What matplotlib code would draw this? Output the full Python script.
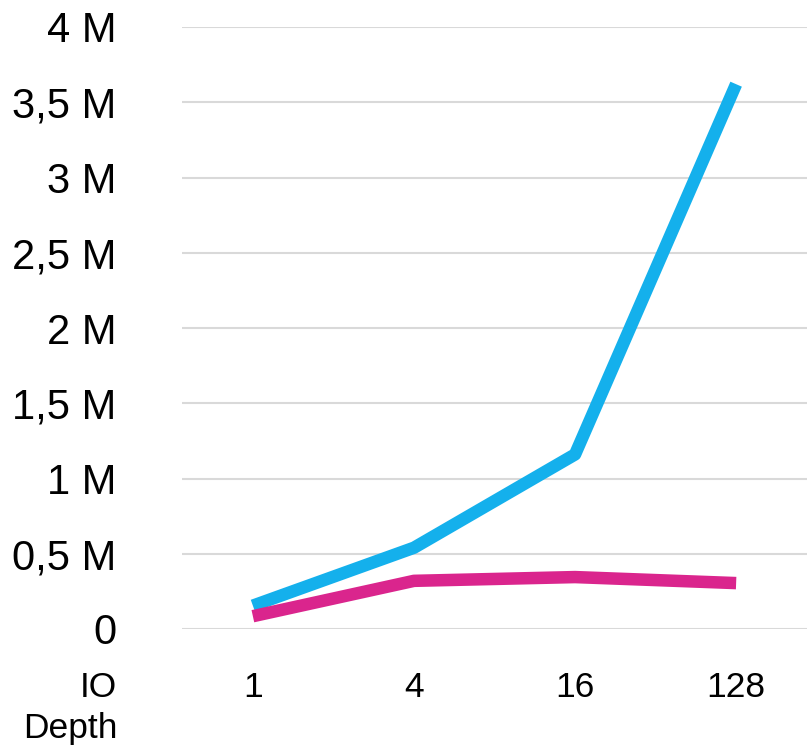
import matplotlib
matplotlib.use("Agg")
import matplotlib.pyplot as plt
from matplotlib.ticker import FuncFormatter

depths = ["1", "4", "16", "128"]
blue_vals = [155000, 540000, 1160000, 3620000]
pink_vals = [85000, 320000, 345000, 305000]
yticks = [0, 500000, 1000000, 1500000, 2000000, 2500000, 3000000, 3500000, 4000000]

plt.rcParams['font.family'] = ['Liberation Sans', 'DejaVu Sans']

W, H = 807, 749
fig = plt.figure(figsize=(W / 100, H / 100), dpi=100)
ax = fig.add_axes([182 / W, (H - 629) / H, 1 - 182 / W, (629 - 27) / H])

x = range(len(depths))
ax.plot(x, blue_vals, color='#14b0ec', lw=9, solid_capstyle='butt', clip_on=False, zorder=3)
ax.plot(x, pink_vals, color='#da258d', lw=9, solid_capstyle='butt', clip_on=False, zorder=3)

ax.set_xlim(-0.44, 3.44)
ax.set_ylim(0, 4000000)
ax.set_xticks(list(x))
ax.set_xticklabels(depths)
ax.set_yticks(yticks)


def fmt(v, pos):
    if v == 0:
        return "0"
    s = f"{v / 1e6:g}".replace(".", ",")
    return s + " M"


ax.yaxis.set_major_formatter(FuncFormatter(fmt))
ax.tick_params(axis='both', length=0, colors='black')
ax.tick_params(axis='y', pad=47, labelsize=30)
ax.tick_params(axis='x', pad=30, labelsize=25.5)
ax.grid(axis='y', color='#d9d9d9', lw=1.5)
ax.set_axisbelow(True)
for s in ax.spines.values():
    s.set_visible(False)

fig.text(117 / W, (H - 671) / H, "IO\nDepth", ha='right', va='top', fontsize=25.5,
         multialignment='right', linespacing=1.31)

fig.savefig("out.png", dpi=100)
